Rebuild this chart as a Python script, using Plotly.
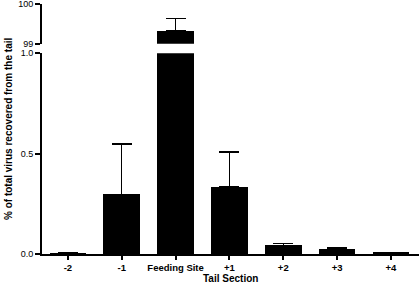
import plotly.graph_objects as go

categories = ["-2", "-1", "Feeding Site", "+1", "+2", "+3", "+4"]
means = [0.003, 0.295, 99.33, 0.334, 0.041, 0.025, 0.007]
sem = [0.001, 0.254, 0.30, 0.175, 0.012, 0.005, 0.001]

lower_max = 1.0
upper_min = 99.0
upper_max = 100.0

lower_err = [e if m + e <= lower_max else 0 for m, e in zip(means, sem)]
upper_vals = [m if m > upper_min else None for m in means]
upper_err = [e if m > upper_min else 0 for m, e in zip(means, sem)]

FONT = "Liberation Sans, Arial, sans-serif"
bar_w = 0.68

fig = go.Figure()
fig.add_trace(go.Bar(
    x=categories, y=means, width=bar_w, marker=dict(color="black", line=dict(width=0)),
    error_y=dict(type="data", symmetric=False, array=lower_err, arrayminus=[0] * len(means),
                 color="black", thickness=1.5, width=10),
    xaxis="x", yaxis="y", showlegend=False,
))
fig.add_trace(go.Bar(
    x=categories, y=upper_vals, width=bar_w, marker=dict(color="black", line=dict(width=0)),
    error_y=dict(type="data", symmetric=False, array=upper_err, arrayminus=[0] * len(means),
                 color="black", thickness=1.5, width=10),
    xaxis="x2", yaxis="y2", showlegend=False,
))

axis_common = dict(showline=True, linecolor="black", linewidth=2, ticks="outside",
                   tickcolor="black", tickwidth=1.5, showgrid=False, zeroline=False,
                   ticklabeloverflow="allow")

fig.update_layout(
    width=419, height=283,
    margin=dict(l=42, r=0, t=4, b=29),
    paper_bgcolor="white", plot_bgcolor="white",
    font=dict(family=FONT, color="black", size=9),
    bargap=0,
    xaxis=dict(type="category", range=[-0.48, 6.52], anchor="y", domain=[0, 1],
               tickvals=categories, ticktext=["<b>%s</b>" % c for c in categories],
               ticklen=4, tickfont=dict(size=9.5), **axis_common),
    xaxis2=dict(type="category", range=[-0.48, 6.52], anchor="y2", matches="x",
                visible=False),
    yaxis=dict(domain=[0, 0.8028], range=[0, lower_max], anchor="x",
               tickvals=[0, 0.5, 1.0], ticktext=["0.0", "0.5", "1.0"], ticklen=5,
               tickfont=dict(size=9), **axis_common),
    yaxis2=dict(domain=[0.8412, 1], range=[upper_min, upper_max], anchor="x2",
                tickvals=[99, 100], ticktext=["99", "100"], ticklen=5,
                tickfont=dict(size=9), **axis_common),
    annotations=[
        dict(text="<b>% of total virus recovered from the tail</b>", xref="paper", yref="paper",
             x=0, y=0.5, xanchor="center", yanchor="middle", xshift=-34, textangle=-90,
             showarrow=False, font=dict(size=10, family=FONT)),
        dict(text="<b>Tail Section</b>", xref="paper", yref="paper",
             x=0.5, y=0, xanchor="center", yanchor="middle", yshift=-24,
             showarrow=False, font=dict(size=10, family=FONT)),
    ],
)

fig.write_html("out.html", config={"displayModeBar": False},
               post_script="document.body.style.margin='0';")
